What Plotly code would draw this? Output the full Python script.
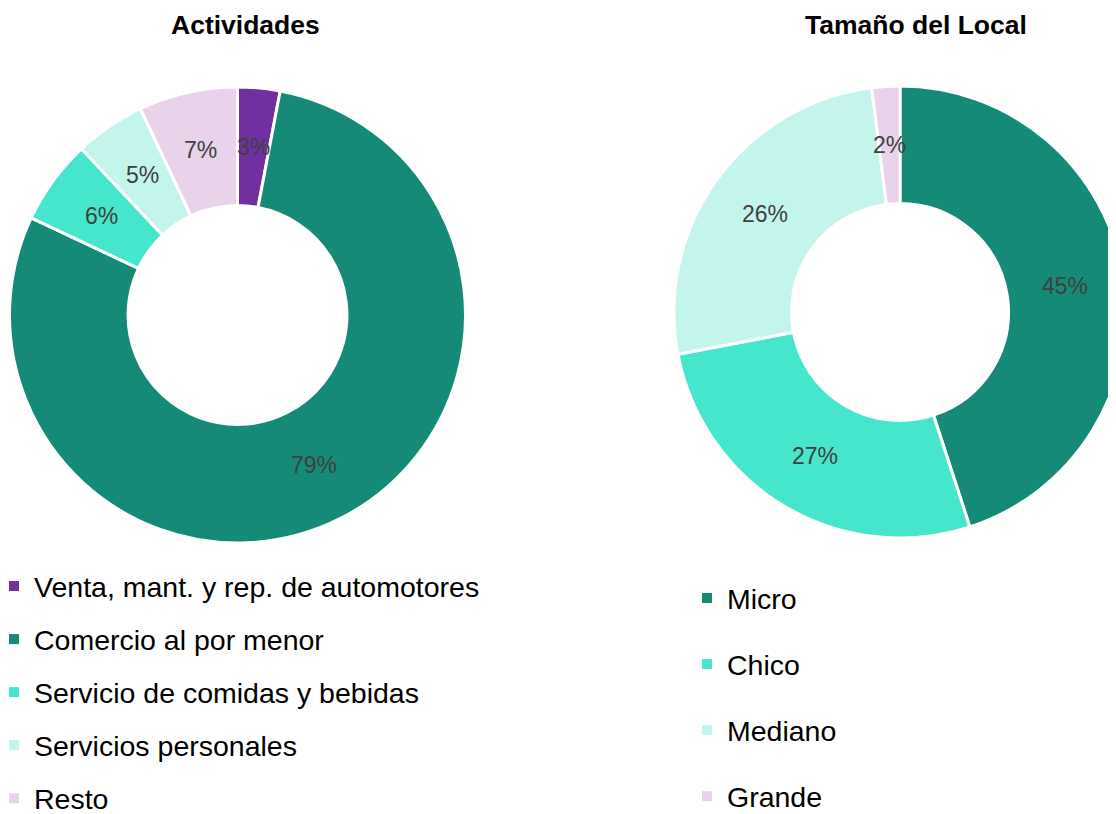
import math
import plotly.graph_objects as go

# page body has an 8px margin, so the figure is a bit wider than the window
W, H = 1130, 814

act_labels = ["Venta, mant. y rep. de automotores", "Comercio al por menor",
              "Servicio de comidas y bebidas", "Servicios personales", "Resto"]
act_values = [3, 79, 6, 5, 7]
act_colors = ["#7030A0", "#158B77", "#45E6CB", "#C4F5EC", "#E9D3EA"]

loc_labels = ["Micro", "Chico", "Mediano", "Grande"]
loc_values = [45, 27, 26, 2]
loc_colors = ["#158B77", "#45E6CB", "#C4F5EC", "#E9D3EA"]

FONT = "Liberation Sans, Arial, sans-serif"
HOLE = 0.48


def px_domain(cx, cy, r):
    # pixel centre/radius -> paper domain
    return dict(x=[(cx - r) / W, (cx + r) / W],
                y=[(H - cy - r) / H, (H - cy + r) / H])


def slice_labels(values, cx, cy, r):
    # percent labels at the middle of the ring, like Excel does
    total = sum(values)
    rm = r * (1 + HOLE) / 2
    out = []
    cum = 0
    for v in values:
        a = (cum + v / 2) / total * 2 * math.pi
        cum += v
        out.append(dict(text=f"{v}%", x=(cx + rm * math.sin(a)) / W,
                        y=1 - (cy - rm * math.cos(a)) / H,
                        xref="paper", yref="paper", showarrow=False,
                        xanchor="center", yanchor="middle",
                        font=dict(size=23, color="#404040")))
    return out


fig = go.Figure()

left = (229.5, 307, 228)
right = (892, 304, 226)

fig.add_trace(go.Pie(
    labels=act_labels, values=act_values, hole=HOLE, sort=False,
    direction="clockwise", rotation=0, textinfo="none",
    marker=dict(colors=act_colors, line=dict(color="white", width=3)),
    domain=px_domain(*left), showlegend=False,
))

fig.add_trace(go.Pie(
    labels=loc_labels, values=loc_values, hole=HOLE, sort=False,
    direction="clockwise", rotation=0, textinfo="none",
    marker=dict(colors=loc_colors, line=dict(color="white", width=3)),
    domain=px_domain(*right), showlegend=False,
))

# legend entries
for lab, col in zip(act_labels, act_colors):
    fig.add_trace(go.Scatter(x=[None], y=[None], mode="markers", name=lab,
                             legendgroup=lab, legend="legend",
                             marker=dict(symbol="square", size=10, color=col)))
for lab, col in zip(loc_labels, loc_colors):
    fig.add_trace(go.Scatter(x=[None], y=[None], mode="markers", name=lab,
                             legendgroup="l_" + lab, legend="legend2",
                             marker=dict(symbol="square", size=10, color=col)))

annots = slice_labels(act_values, *left) + slice_labels(loc_values, *right)
annots += [
    dict(text="<b>Actividades</b>", x=237 / W, y=1, xref="paper",
         yref="paper", xanchor="center", yanchor="top",
         showarrow=False, font=dict(size=26.5)),
    dict(text="<b>Tamaño del Local</b>", x=908 / W, y=1,
         xref="paper", yref="paper", xanchor="center", yanchor="top",
         showarrow=False, font=dict(size=26.5)),
]

fig.update_layout(
    width=W, height=H,
    margin=dict(l=0, r=0, t=0, b=0, autoexpand=False),
    paper_bgcolor="white", plot_bgcolor="white",
    font=dict(family=FONT, color="#000000"),
    xaxis=dict(visible=False), yaxis=dict(visible=False),
    legend=dict(x=-14 / W, y=1 - 553 / H, xanchor="left", yanchor="top",
                font=dict(size=28.5), tracegroupgap=13,
                bgcolor="rgba(0,0,0,0)"),
    legend2=dict(x=679 / W, y=1 - 565 / H, xanchor="left", yanchor="top",
                 font=dict(size=28.5), tracegroupgap=26,
                 bgcolor="rgba(0,0,0,0)"),
    annotations=annots,
)

fig.write_html("out.html")
